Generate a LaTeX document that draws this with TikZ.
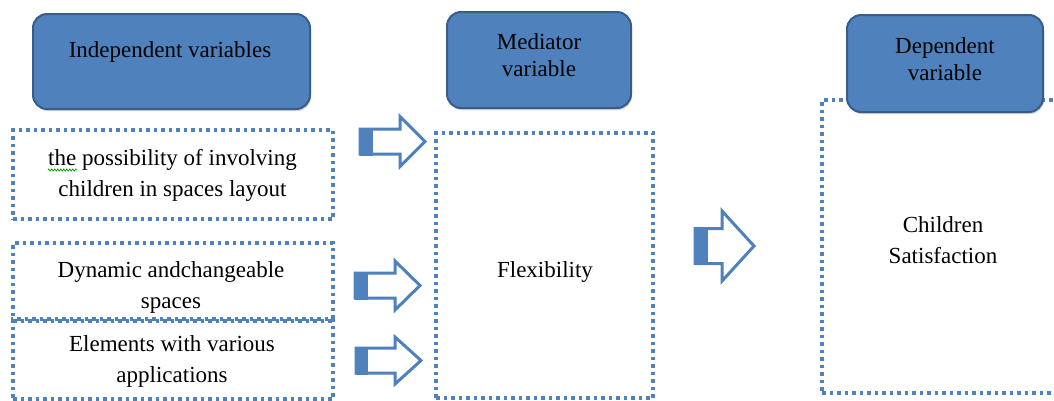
\documentclass[tikz,border=0pt]{standalone}
\usepackage{fontspec}
\setmainfont{Liberation Serif}
\usetikzlibrary{shadows,decorations.pathmorphing}
\definecolor{accent}{HTML}{4F81BD}
\definecolor{accentdark}{HTML}{385D8A}

% block arrow: #1 left x, #2 centre y, #3 tip x, #4 half shaft height,
% #5 half head height, #6 head length, #7 width of the solid stub
\newcommand\blockarrow[7]{%
  \fill[accent] (#1,#2-#4-1.5) rectangle (#1+#7,#2+#4+1.5);
  \draw[accent, line width=3pt, line join=miter]
    (#1,#2-#4) -- (#3-#6,#2-#4) -- (#3-#6,#2-#5) -- (#3,#2)
    -- (#3-#6,#2+#5) -- (#3-#6,#2+#4) -- (#1,#2+#4) -- cycle;}

\begin{document}
\begin{tikzpicture}[x=1pt,y=-1pt,
  header/.style={draw=accentdark, line width=2pt, fill=accent,
    rounded corners=14pt, inner sep=0pt, outer sep=0pt,
    drop shadow={opacity=0.35, shadow xshift=1pt, shadow yshift=-2pt}},
  dotbox/.style={draw=accent, line width=3.5pt, dash pattern=on 3.5pt off 4pt,
    inner sep=0pt, outer sep=0pt},
  label/.style={font=\fontsize{23}{31}\selectfont, align=center,
    anchor=base, inner sep=0pt},
  headlabel/.style={label, font=\fontsize{23}{27}\selectfont}]

\clip (0,0) rectangle (1054,400);
\fill[white] (0,0) rectangle (1054,400);

% independent variables (text nodes are placed at the baseline of their last line)
\node[header, minimum width=277pt, minimum height=95pt] (ivh) at (171.5,61.5) {};
\node[headlabel] (ivt) at (170,57) {Independent variables};

\node[dotbox, minimum width=320pt, minimum height=89pt] (iv1) at (173,174.5) {};
\node[dotbox, minimum width=320pt, minimum height=78pt] (iv2) at (173,282) {};
\node[dotbox, minimum width=320pt, minimum height=80pt] (iv3) at (173,359) {};

\node[label] (iv1t) at (172.5,196) {the possibility of involving\\children in spaces layout};
\draw[green!60!black, line width=0.7pt, decorate,
  decoration={zigzag, amplitude=1.1pt, segment length=3pt}] (48,170) -- (77,170);
\node[label] (iv2t) at (171,308) {Dynamic andchangeable\\spaces};
\node[label] (iv3t) at (172,382) {Elements with various\\applications};

% mediator
\node[header, minimum width=184pt, minimum height=96pt] (mvh) at (539,60) {};
\node[headlabel] (mvt) at (539,76) {Mediator\\variable};
\node[dotbox, minimum width=217pt, minimum height=265pt] (mv) at (544.5,265.5) {};
\node[label] (mvl) at (545,277) {Flexibility};

% dependent
\node[dotbox, minimum width=250pt, minimum height=293pt] (dv) at (947,246.5) {};
\node[header, minimum width=196pt, minimum height=97pt] (dvh) at (945,63.5) {};
\node[headlabel] (dvt) at (945,80) {Dependent\\variable};
\node[label] (dvl) at (943,263) {Children\\Satisfaction};

% block arrows
\blockarrow{360}{141.5}{425}{12.5}{25}{25}{13}
\blockarrow{355}{285.5}{420}{12.5}{24.5}{25}{13}
\blockarrow{356}{360.5}{421}{12.5}{23.5}{26}{12}
\blockarrow{695}{246}{754}{17.5}{35}{32}{13}
\end{tikzpicture}
\end{document}
